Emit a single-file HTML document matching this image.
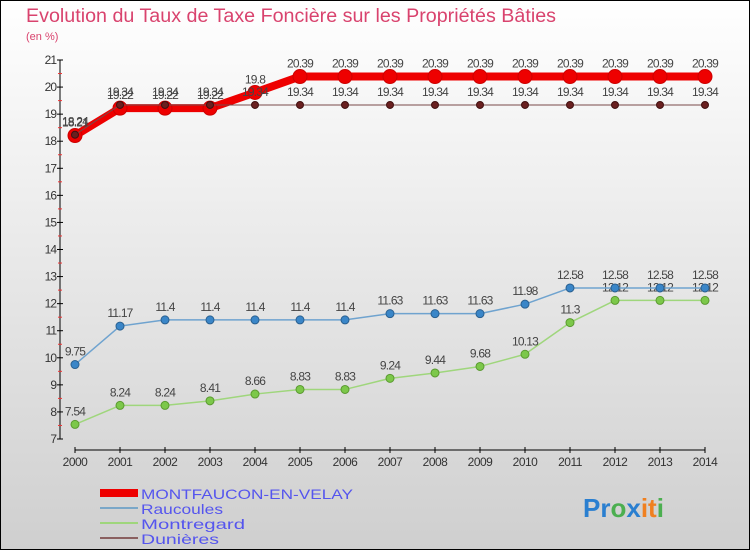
<!DOCTYPE html>
<html><head><meta charset="utf-8"><style>
body{margin:0;width:750px;height:550px;overflow:hidden;font-family:"Liberation Sans",sans-serif}
</style></head><body>
<svg id="chart" width="750" height="550" xmlns="http://www.w3.org/2000/svg">
<defs><linearGradient id="bg" x1="0" y1="0" x2="0" y2="1"><stop offset="0" stop-color="#ffffff"/><stop offset="1" stop-color="#cfcfcf"/></linearGradient></defs>
<rect x="0.5" y="0.5" width="749" height="549" fill="url(#bg)" stroke="#000"/>
<text x="26" y="22" font-size="19" fill="#d9436e" textLength="530" lengthAdjust="spacingAndGlyphs">Evolution du Taux de Taxe Foncière sur les Propriétés Bâties</text>
<text x="26" y="40" font-size="11" fill="#d9436e">(en %)</text>
<g id="axes"></g>
<g id="series"></g>
<g>
<rect x="100" y="489" width="38" height="8" fill="#e00"/>
<text x="141" y="499" font-size="14" fill="#5555ee" textLength="212" lengthAdjust="spacingAndGlyphs">MONTFAUCON-EN-VELAY</text>
<rect x="100" y="507" width="38" height="2" fill="#7aa7c8"/>
<text x="141" y="514" font-size="14" fill="#5555ee" textLength="82" lengthAdjust="spacingAndGlyphs">Raucoules</text>
<rect x="100" y="522" width="38" height="2" fill="#9fd67c"/>
<text x="141" y="529" font-size="14" fill="#5555ee" textLength="104" lengthAdjust="spacingAndGlyphs">Montregard</text>
<rect x="100" y="537" width="38" height="2" fill="#8a6060"/>
<text x="141" y="544" font-size="14" fill="#5555ee" textLength="78" lengthAdjust="spacingAndGlyphs">Dunières</text>
</g>
<g font-size="26" font-weight="bold">
<text x="583" y="517"><tspan fill="#2a7fd0">Pr</tspan><tspan fill="#4caf50">o</tspan><tspan fill="#2a7fd0">x</tspan><tspan fill="#f08020">it</tspan><tspan fill="#4caf50">i</tspan></text>
</g>
</svg>
<script>
const years=[2000,2001,2002,2003,2004,2005,2006,2007,2008,2009,2010,2011,2012,2013,2014];
const montfaucon=[18.21,19.22,19.22,19.22,19.8,20.39,20.39,20.39,20.39,20.39,20.39,20.39,20.39,20.39,20.39];
const raucoules=[9.75,11.17,11.4,11.4,11.4,11.4,11.4,11.63,11.63,11.63,11.98,12.58,12.58,12.58,12.58];
const montregard=[7.54,8.24,8.24,8.41,8.66,8.83,8.83,9.24,9.44,9.68,10.13,11.3,12.12,12.12,12.12];
const dunieres=[18.24,19.34,19.34,19.34,19.34,19.34,19.34,19.34,19.34,19.34,19.34,19.34,19.34,19.34,19.34];
const yTicks=[7,8,9,10,11,12,13,14,15,16,17,18,19,20,21];
const NS="http://www.w3.org/2000/svg";
const x=i=>75+i*(630/(years.length-1));
const y=v=>439-(v-7)*(379/14);
function mk(p,t,a){const e=document.createElementNS(NS,t);for(const k in a)e.setAttribute(k,a[k]);p.appendChild(e);return e;}
const ax=document.getElementById('axes');
let l=mk(ax,'line',{x1:60,y1:y(21),x2:60,y2:y(7),stroke:'#000'});


yTicks.forEach(v=>{
 mk(ax,'line',{x1:57,y1:y(v),x2:63,y2:y(v),stroke:'#000'});
 if(v<21)mk(ax,'line',{x1:58,y1:y(v+0.5),x2:62,y2:y(v+0.5),stroke:'#e33'});
 const t=mk(ax,'text',{x:56,y:y(v)+4,'font-size':12,fill:'#333','text-anchor':'end','letter-spacing':'-1'});
 t.textContent=v;
 
 
});
l=mk(ax,'line',{x1:75,y1:450,x2:705,y2:450,stroke:'#000'});


years.forEach((yr,i)=>{
 mk(ax,'line',{x1:x(i),y1:447,x2:x(i),y2:453,stroke:'#000'});
 const t=mk(ax,'text',{x:x(i),y:466,'font-size':12,fill:'#333','text-anchor':'middle','letter-spacing':'-0.5'});
 t.textContent=yr;
 
 
});
const sg=document.getElementById('series');
function series(name,vals,color,w,r,dot,dotStroke){
 const g=mk(sg,'g',{});
 
 
 const pl=mk(g,'polyline',{points:vals.map((v,i)=>x(i)+','+y(v)).join(' '),fill:'none',stroke:color,'stroke-width':w,'stroke-linejoin':'round'});
 
 
 vals.forEach((v,i)=>{
  const c=mk(g,'circle',{cx:x(i),cy:y(v),r:r,fill:dot,stroke:dotStroke,'stroke-width':1});
  
  
  const t=mk(g,'text',{x:x(i),y:y(v)-9,'font-size':12,fill:'#444','text-anchor':'middle','letter-spacing':'-0.8'});
  t.textContent=v;
  
  
 });
}
series('montregard',montregard,'#9fd67c',1.5,4,'#7cc84a','#5a9a30');
series('raucoules',raucoules,'#6fa3cf',1.5,4,'#3a86c8','#2a6090');
series('montfaucon',montfaucon,'#e00',8,7,'#e00','#c00');
series('dunieres',dunieres,'#7a4a4a',1,3.5,'#6a2020','#401010');
</script>
</body></html>
